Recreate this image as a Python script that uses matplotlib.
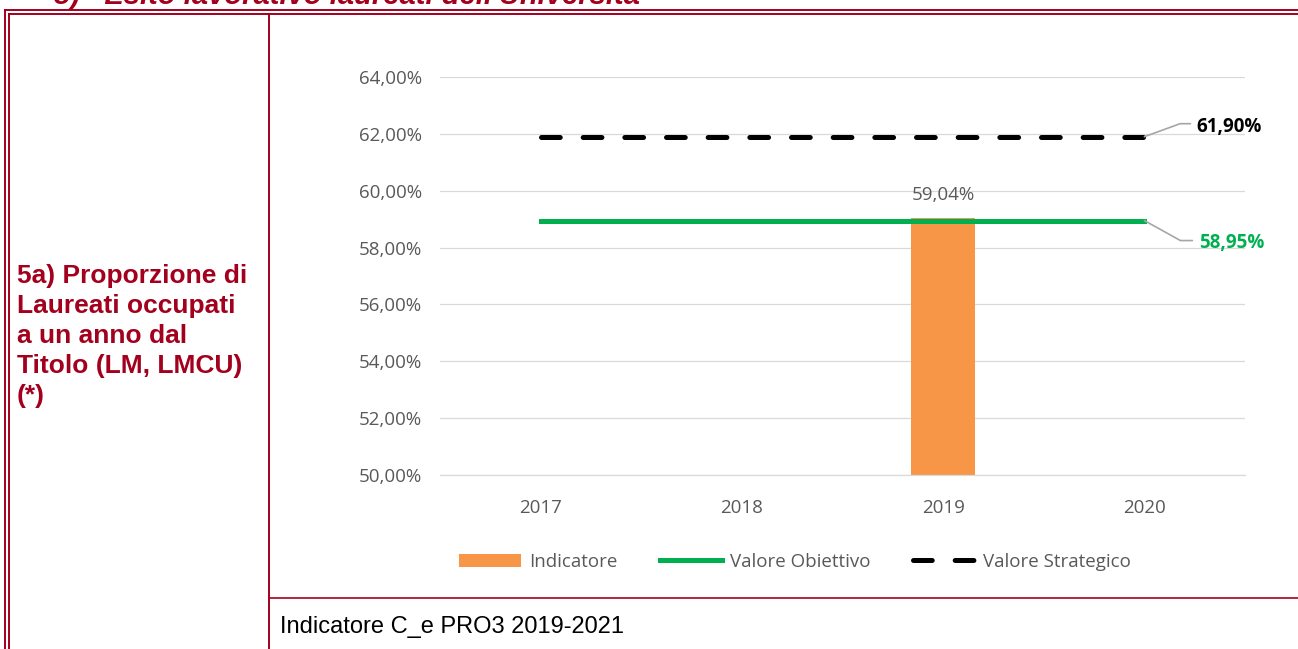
import matplotlib.pyplot as plt
from matplotlib.lines import Line2D
from matplotlib.patches import Patch

plt.rcParams['lines.scale_dashes'] = False

# data
anni = ['2017', '2018', '2019', '2020']
indicatore = [None, None, 0.5904, None]
valore_obiettivo = [0.5895, 0.5895, 0.5895, 0.5895]
valore_strategico = [0.6190, 0.6190, 0.6190, 0.6190]
y_ticks = [0.50, 0.52, 0.54, 0.56, 0.58, 0.60, 0.62, 0.64]

RED = '#A3001E'
GREY_TXT = '#595959'
ORANGE = '#F79646'
GREEN = '#00B050'
W, H = 1298, 649

fig = plt.figure(figsize=(W / 100, H / 100), dpi=100)


def fx(px):
    return px / W


def fy(py):
    return 1 - py / H


def pct(v):
    return ('%.2f%%' % (v * 100)).replace('.', ',')


# table borders
for x in (5, 9):
    fig.add_artist(Line2D([fx(x), fx(x)], [fy(H + 5), fy(10 if x == 5 else 14)], color=RED, lw=1.4))
for y in (10, 14):
    fig.add_artist(Line2D([fx(5 if y == 10 else 9), 1.01], [fy(y), fy(y)], color=RED, lw=1.4))
fig.add_artist(Line2D([fx(269), fx(269)], [fy(14), fy(H + 5)], color=RED, lw=1.4))
fig.add_artist(Line2D([fx(269), 1.01], [fy(597.5), fy(597.5)], color=RED, lw=1.2))

# header (cut at top, as in the source page)
fig.text(fx(54), fy(4), "5)   Esito lavorativo laureati dell'Università", color=RED,
         fontsize=21, fontweight='bold', fontstyle='italic', family='Liberation Sans',
         va='baseline', ha='left')

# left cell
fig.text(fx(17), fy(336), '5a) Proporzione di\nLaureati occupati\na un anno dal\nTitolo (LM, LMCU)\n(*)',
         color=RED, fontsize=19, fontweight='bold', family='Liberation Sans',
         va='center', ha='left', linespacing=1.32)

# footer
fig.text(fx(280), fy(627), 'Indicatore C_e PRO3 2019-2021', color='black', fontsize=17,
         family='Liberation Sans', va='center', ha='left')

# chart
ax = fig.add_axes([fx(440), fy(475), fx(1245) - fx(440), fy(77) - fy(475)])
x = list(range(len(anni)))
fam = 'Open Sans'
fs = 13.5

bx = [i for i, v in zip(x, indicatore) if v is not None]
bv = [v for v in indicatore if v is not None]
ax.bar(bx, bv, width=0.32, color=ORANGE, zorder=2)
ax.plot(x, valore_obiettivo, color=GREEN, lw=3.6, zorder=3, solid_capstyle='projecting')
ax.plot(x, valore_strategico, color='black', lw=3.6, zorder=3, dashes=(13.5, 16.5),
        dash_capstyle='round')

ax.set_xlim(-0.5, len(anni) - 0.5)
ax.set_ylim(y_ticks[0], y_ticks[-1])
ax.set_yticks(y_ticks)
ax.set_yticklabels([pct(t) for t in y_ticks], family=fam, fontsize=fs, color=GREY_TXT)
ax.set_xticks(x)
ax.set_xticklabels(anni, family=fam, fontsize=fs, color=GREY_TXT)
ax.tick_params(axis='y', length=0, pad=13)
ax.tick_params(axis='x', length=0, pad=17.5)
ax.grid(axis='y', color='#D9D9D9', lw=0.9, zorder=0)
ax.set_axisbelow(True)
for s in ('top', 'right', 'left'):
    ax.spines[s].set_visible(False)
ax.spines['bottom'].set_color('#D9D9D9')
ax.spines['bottom'].set_linewidth(0.9)

# labels
for xi, v in zip(bx, bv):
    ax.annotate(pct(v), xy=(xi, v), xytext=(0, 23), textcoords='offset pixels',
                ha='center', va='center', family=fam, fontsize=fs, color=GREY_TXT)

last = len(anni) - 1
ax.annotate('', xy=(last, valore_strategico[-1]), xytext=(46, 13), textcoords='offset pixels',
            arrowprops=dict(arrowstyle='-', color='#A6A6A6', lw=1.2, shrinkA=0, shrinkB=0,
                            connectionstyle='angle,angleA=0,angleB=20,rad=0'), annotation_clip=False)
ax.annotate(pct(valore_strategico[-1]), xy=(last, valore_strategico[-1]), xytext=(52, 10),
            textcoords='offset pixels', ha='left', va='center', family=fam, fontsize=fs,
            fontweight='bold', color='black', annotation_clip=False)
ax.annotate('', xy=(last, valore_obiettivo[-1]), xytext=(48, -20), textcoords='offset pixels',
            arrowprops=dict(arrowstyle='-', color='#A6A6A6', lw=1.2, shrinkA=0, shrinkB=0,
                            connectionstyle='angle,angleA=0,angleB=-29,rad=0'), annotation_clip=False)
ax.annotate(pct(valore_obiettivo[-1]), xy=(last, valore_obiettivo[-1]), xytext=(55, -22),
            textcoords='offset pixels', ha='left', va='center', family=fam, fontsize=fs,
            fontweight='bold', color=GREEN, annotation_clip=False)

handles = [Patch(facecolor=ORANGE, edgecolor='none'),
           Line2D([], [], color=GREEN, lw=3.6),
           Line2D([], [], color='black', lw=3.6, dashes=(13.5, 16.5), dash_capstyle='round')]
fig.legend(handles, ['Indicatore', 'Valore Obiettivo', 'Valore Strategico'],
           loc='center', bbox_to_anchor=(fx(795), fy(562)), ncol=3, frameon=False,
           prop={'family': fam, 'size': fs}, labelcolor=GREY_TXT,
           handlelength=3.3, handletextpad=0.4, columnspacing=2.3, handleheight=0.75)

fig.savefig('out.png', dpi=100)
